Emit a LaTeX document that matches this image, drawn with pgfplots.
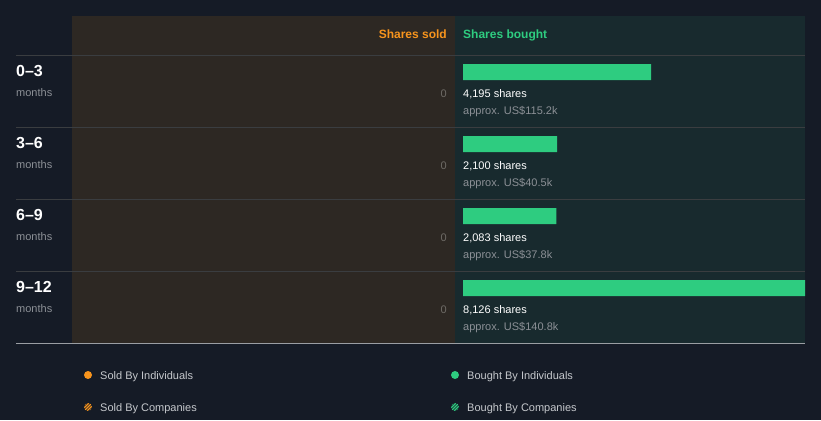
\documentclass[border=0pt]{standalone}
\usepackage{pgfplots}
\usepackage{pgfplotstable}
\pgfplotsset{compat=1.18}
\usepackage{fontspec}
\setmainfont{Liberation Sans}
\definecolor{bg}{HTML}{151B26}
\definecolor{soldbg}{HTML}{2D2823}
\definecolor{boughtbg}{HTML}{182A2E}
\definecolor{sold}{HTML}{F7941D}
\definecolor{bought}{HTML}{2ECC80}
\definecolor{graytxt}{HTML}{8C9096}
\definecolor{zerotxt}{HTML}{6E6B66}
\definecolor{legtxt}{HTML}{C5C8CC}
\definecolor{rowrule}{HTML}{3A3D40}
\definecolor{baserule}{HTML}{9A9EA3}
\pgfplotstableread{
row shares
0.2222 4195
1.2222 2100
2.2222 2083
3.2222 8126
}\boughttab
\pgfplotstableread{
row shares
0.2222 0
1.2222 0
2.2222 0
3.2222 0
}\soldtab
\begin{document}
\begin{tikzpicture}[x=1pt,y=1pt]
\fill[bg] (0,0) rectangle (821,420);
\fill[soldbg] (72,404) rectangle (455,76);
\fill[boughtbg] (455,404) rectangle (805,76);
\foreach \yy in {364,292,220,148} \draw[rowrule, line width=1pt] (16,\yy) -- (805,\yy);
\draw[baserule, line width=1pt] (16,76) -- (805,76);
% headers
\node[anchor=base east, inner sep=0pt, text=sold, font=\fontsize{12}{14}\selectfont\bfseries] at (447,381) {Shares sold};
\node[anchor=base west, inner sep=0pt, text=bought, font=\fontsize{12}{14}\selectfont\bfseries] at (463,381) {Shares bought};
% bought bars
\begin{axis}[at={(463pt,76pt)}, anchor=south west, scale only axis,
  width=342pt, height=288pt, xmin=0, xmax=7624, ymin=0, ymax=4,
  y dir=reverse, hide axis, xbar, bar width=16pt, clip=true]
\addplot[fill=bought, draw=none, bar shift=0pt] table[x=shares, y=row] {\boughttab};
\end{axis}
% sold bars (all zero, nothing visible)
\begin{axis}[at={(72pt,76pt)}, anchor=south west, scale only axis,
  width=375pt, height=288pt, xmin=0, xmax=7624, ymin=0, ymax=4,
  x dir=reverse, y dir=reverse, hide axis, xbar, bar width=16pt, clip=true]
\addplot[fill=none, draw=none, bar shift=0pt] table[x=shares, y=row] {\soldtab};
\end{axis}
% row texts
\foreach \tp/\lab/\sh/\usd in {364/{0\textendash3}/{4,195}/{115.2k}, 292/{3\textendash6}/{2,100}/{40.5k}, 220/{6\textendash9}/{2,083}/{37.8k}, 148/{9\textendash12}/{8,126}/{140.8k}}{
  \node[anchor=base west, inner sep=0pt, text=white, font=\fontsize{16}{18}\selectfont\bfseries] at (16,\tp-20.5) {\lab};
  \node[anchor=base west, inner sep=0pt, text=graytxt, font=\fontsize{11}{13}\selectfont] at (16,\tp-40.5) {months};
  \node[anchor=base east, inner sep=0pt, text=zerotxt, font=\fontsize{11}{13}\selectfont] at (447,\tp-42) {0};
  \node[anchor=base west, inner sep=0pt, text=white, font=\fontsize{11}{13}\selectfont] at (463,\tp-41.5) {\sh\ shares};
  \node[anchor=base west, inner sep=0pt, text=graytxt, font=\fontsize{11}{13}\selectfont] at (463,\tp-59) {approx. US\$\usd};
}
% legend
\fill[sold] (88,45) circle (4);
\node[anchor=base west, inner sep=0pt, text=legtxt, font=\fontsize{11}{13}\selectfont] at (100,41) {Sold By Individuals};
\begin{scope}
\clip (88,13) circle (4);
\foreach \d in {-6,-3,0,3,6} \draw[sold, line width=1.1pt] (88+\d-6,13-6) -- (88+\d+6,13+6);
\end{scope}
\node[anchor=base west, inner sep=0pt, text=legtxt, font=\fontsize{11}{13}\selectfont] at (100,9) {Sold By Companies};
\fill[bought] (455,45) circle (4);
\node[anchor=base west, inner sep=0pt, text=legtxt, font=\fontsize{11}{13}\selectfont] at (467,41) {Bought By Individuals};
\begin{scope}
\clip (455,13) circle (4);
\foreach \d in {-6,-3,0,3,6} \draw[bought, line width=1.1pt] (455+\d-6,13-6) -- (455+\d+6,13+6);
\end{scope}
\node[anchor=base west, inner sep=0pt, text=legtxt, font=\fontsize{11}{13}\selectfont] at (467,9) {Bought By Companies};
\end{tikzpicture}
\end{document}
